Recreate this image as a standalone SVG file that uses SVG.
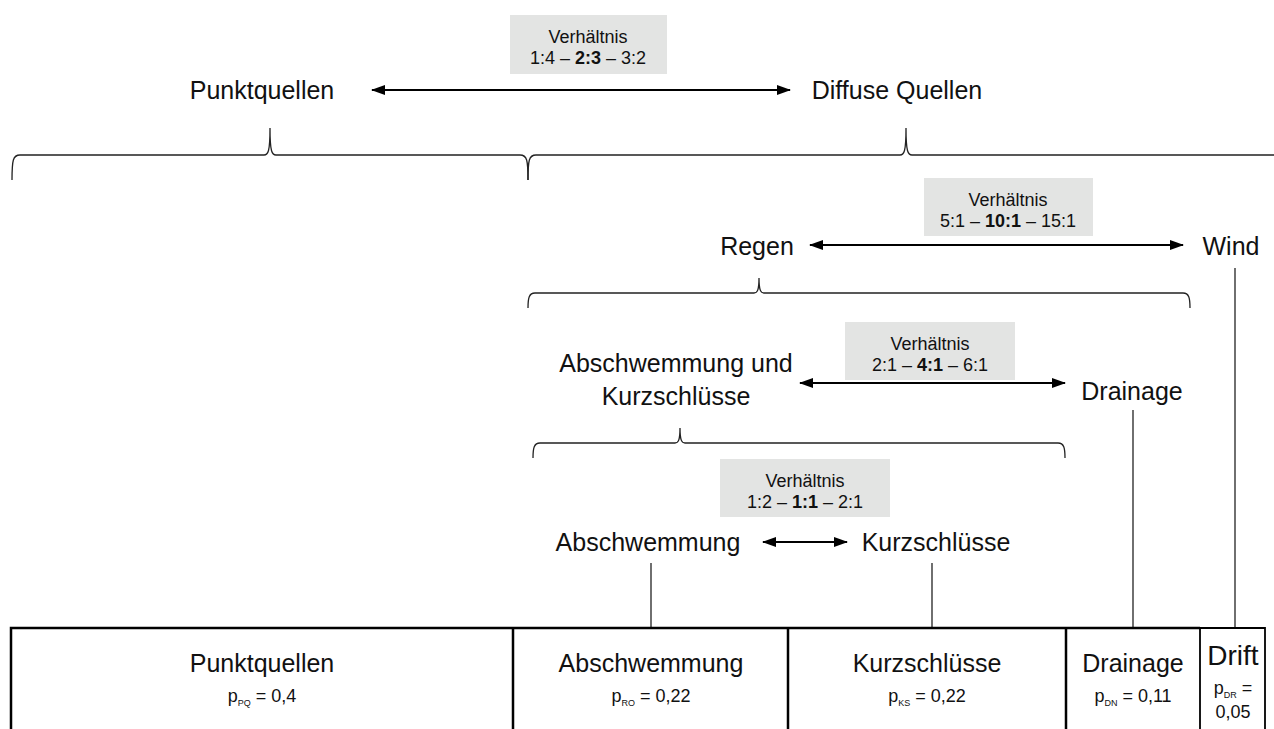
<svg xmlns="http://www.w3.org/2000/svg" width="1274" height="729" viewBox="0 0 1274 729">
<defs>
<marker id="ah" viewBox="0 0 14 10" refX="13" refY="5" markerWidth="14" markerHeight="10" markerUnits="userSpaceOnUse" orient="auto-start-reverse">
<path d="M0,0 L14,5 L0,10 z" fill="#000"/>
</marker>
<style>
text{font-family:"Liberation Sans",Arial,sans-serif;fill:#111;}
.big{font-size:25px;text-anchor:middle;}
.r{font-size:18px;text-anchor:middle;}
.p{font-size:18px;text-anchor:middle;}
.sub{font-size:9px;}
.box{fill:#e3e4e3;}
.br{fill:none;stroke:#222;stroke-width:1.3;}
.arr{stroke:#000;stroke-width:2;marker-start:url(#ah);marker-end:url(#ah);}
.vl{stroke:#222;stroke-width:1.3;}
.cell{fill:none;stroke:#000;stroke-width:2.5;}
</style>
</defs>

<g id="ratio1"><rect class="box" x="510" y="15" width="157" height="59"/>
<text class="r" x="588" y="43">Verhältnis</text>
<text class="r" x="588" y="64">1:4 – <tspan font-weight="bold">2:3</tspan> – 3:2</text></g>
<g id="punktquellen"><text class="big" x="262" y="99">Punktquellen</text></g>
<g id="diffuse"><text class="big" x="897" y="99">Diffuse Quellen</text></g>

<g id="ratio2"><rect class="box" x="924" y="178" width="169" height="58"/>
<text class="r" x="1008" y="206">Verhältnis</text>
<text class="r" x="1008" y="227">5:1 – <tspan font-weight="bold">10:1</tspan> – 15:1</text></g>
<g id="regen"><text class="big" x="757" y="255">Regen</text></g>
<g id="wind"><text class="big" x="1231" y="255">Wind</text></g>

<g id="ratio3"><rect class="box" x="845" y="322" width="170" height="58"/>
<text class="r" x="930" y="350">Verhältnis</text>
<text class="r" x="930" y="371">2:1 – <tspan font-weight="bold">4:1</tspan> – 6:1</text></g>
<g id="abkurz"><text class="big" x="676" y="372">Abschwemmung und</text>
<text class="big" x="676" y="405">Kurzschlüsse</text></g>
<g id="drainage"><text class="big" x="1132" y="400">Drainage</text></g>

<g id="ratio4"><rect class="box" x="720" y="459" width="170" height="58"/>
<text class="r" x="805" y="487">Verhältnis</text>
<text class="r" x="805" y="508">1:2 – <tspan font-weight="bold">1:1</tspan> – 2:1</text></g>
<g id="abschwemmung"><text class="big" x="648" y="551">Abschwemmung</text></g>
<g id="kurzschluesse"><text class="big" x="936" y="551">Kurzschlüsse</text></g>

<g id="connectors">
<line class="arr" x1="372" y1="90" x2="790" y2="90"/>
<line class="arr" x1="810" y1="245" x2="1183" y2="245"/>
<line class="arr" x1="800" y1="383" x2="1065" y2="383"/>
<line class="arr" x1="763" y1="542" x2="847" y2="542"/>
<path class="br" d="M12,180 C12,160 13,155 20,155 L264,155 C268,155 270,152 270,128 C270,152 272,155 276,155 L520,155 C527,155 528,160 528,180"/>
<path class="br" d="M528,180 C528,160 529,155 536,155 L900,155 C904,155 906,152 906,128 C906,152 908,155 912,155 L1274,155"/>
<path class="br" d="M528,308 C528,298 529,293 535,293 L754,293 C757,293 759,291 759,278 C759,291 761,293 764,293 L1183,293 C1189,293 1190,298 1190,308"/>
<path class="br" d="M533,458 C533,448 534,443 540,443 L675,443 C678,443 680,441 680,428 C680,441 682,443 685,443 L1058,443 C1064,443 1065,448 1065,458"/>
<line class="vl" x1="1235" y1="268" x2="1235" y2="627"/>
<line class="vl" x1="1133" y1="410" x2="1133" y2="627"/>
<line class="vl" x1="651" y1="563" x2="651" y2="627"/>
<line class="vl" x1="932" y1="563" x2="932" y2="627"/>
</g>

<g id="table">
<path class="cell" d="M11,731 L11,628 L1200,628 M513,628 L513,731 M788,628 L788,731 M1066,628 L1066,731"/>
<path fill="none" stroke="#000" stroke-width="1.8" d="M1200,628 L1265,628 L1265,731 M1200,628 L1200,731"/>
</g>
<g id="cell-pq"><text class="big" x="262" y="672">Punktquellen</text>
<text class="p" x="262" y="702">p<tspan class="sub" dy="4">PQ</tspan><tspan dy="-4"> = 0,4</tspan></text></g>
<g id="cell-ro"><text class="big" x="651" y="672">Abschwemmung</text>
<text class="p" x="651" y="702">p<tspan class="sub" dy="4">RO</tspan><tspan dy="-4"> = 0,22</tspan></text></g>
<g id="cell-ks"><text class="big" x="927" y="672">Kurzschlüsse</text>
<text class="p" x="927" y="702">p<tspan class="sub" dy="4">KS</tspan><tspan dy="-4"> = 0,22</tspan></text></g>
<g id="cell-dn"><text class="big" x="1133" y="672">Drainage</text>
<text class="p" x="1133" y="702">p<tspan class="sub" dy="4">DN</tspan><tspan dy="-4"> = 0,11</tspan></text></g>
<g id="cell-dr"><text class="big" x="1233" y="665" style="font-size:28px">Drift</text>
<text class="p" x="1233" y="694">p<tspan class="sub" dy="4">DR</tspan><tspan dy="-4"> =</tspan></text>
<text class="p" x="1233" y="718">0,05</text></g>
</svg>
